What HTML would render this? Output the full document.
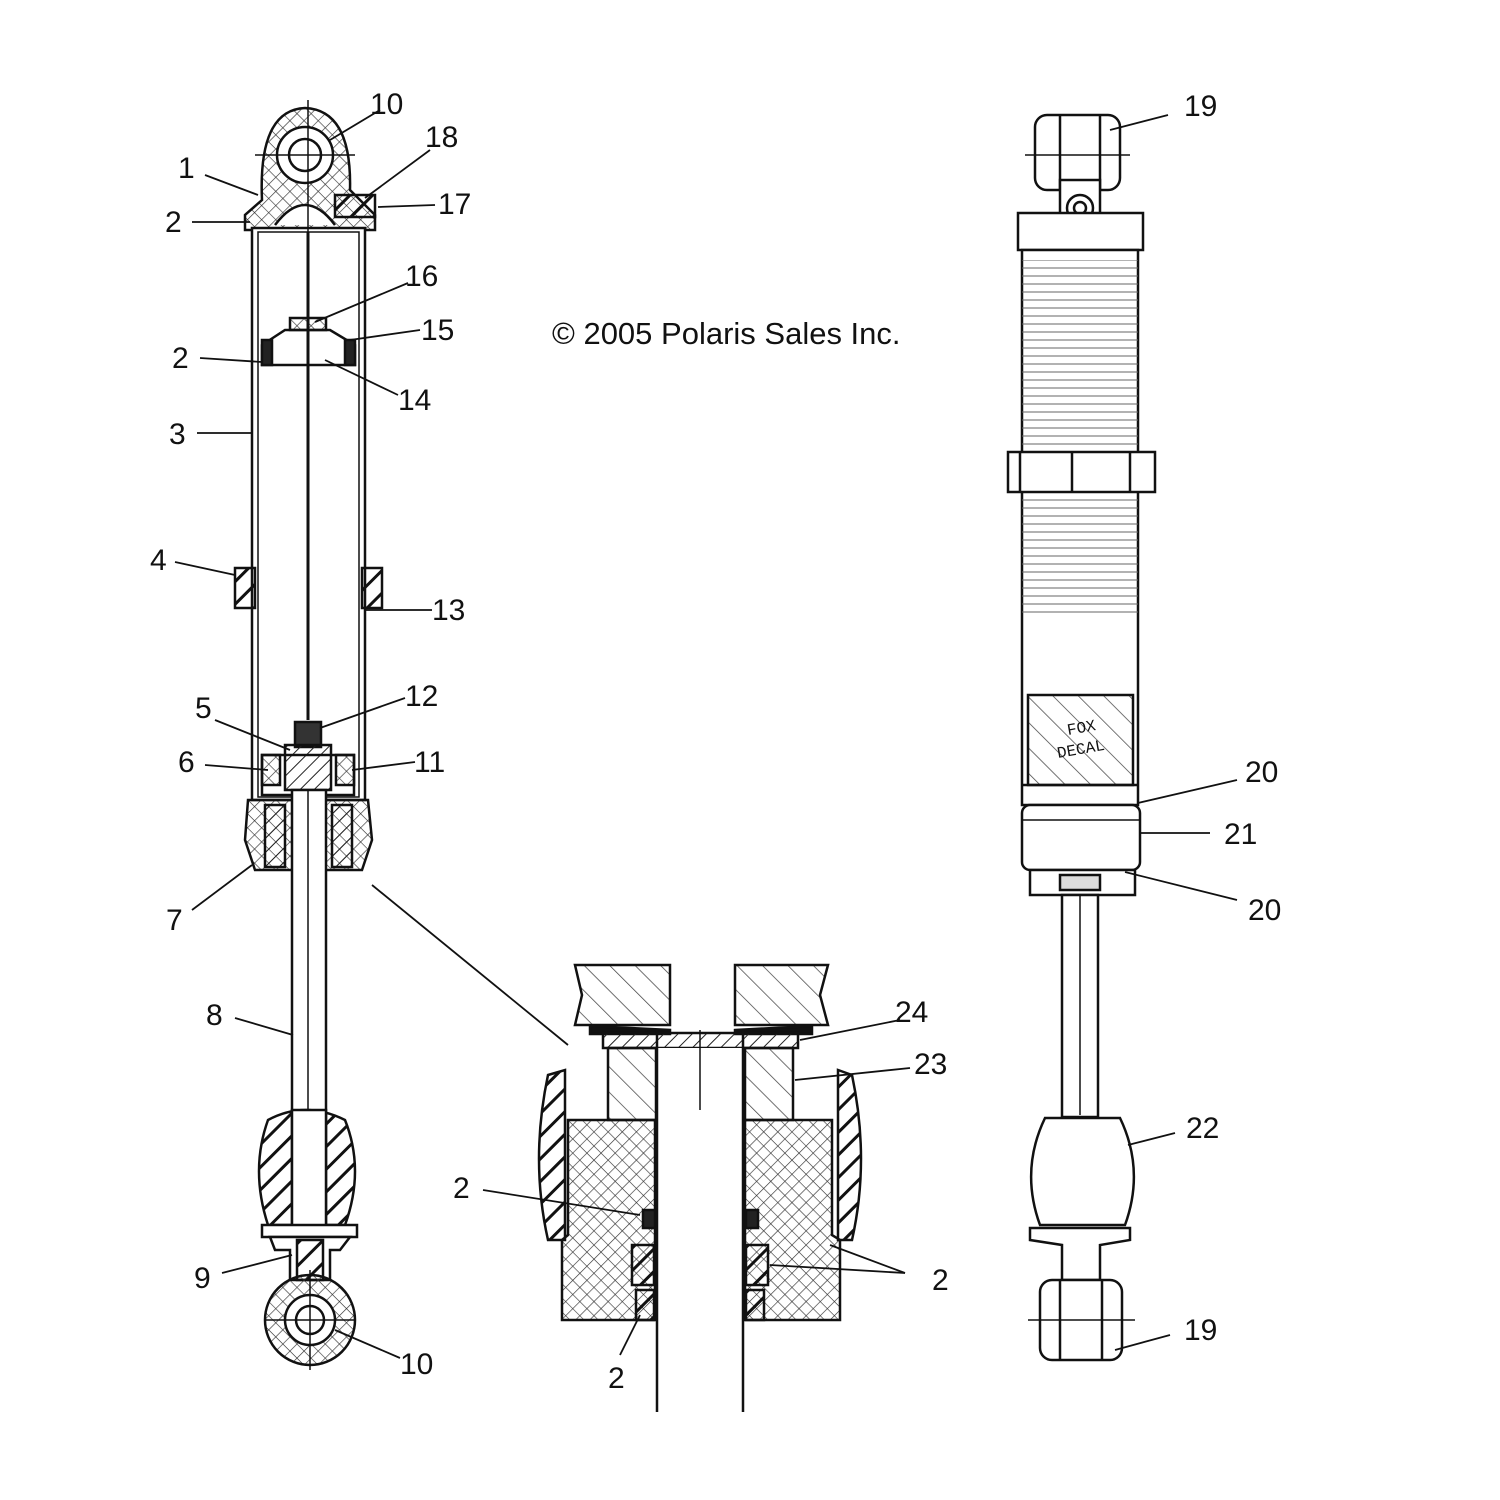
<!DOCTYPE html>
<html><head><meta charset="utf-8"><style>
html,body{margin:0;padding:0;background:#fff;}
svg{display:block;}
text{font-family:"Liberation Sans",sans-serif;font-size:30px;fill:#111;}
</style></head><body>
<svg width="1500" height="1500" viewBox="0 0 1500 1500" xmlns="http://www.w3.org/2000/svg">
<defs>
<pattern id="h" width="10" height="10" patternUnits="userSpaceOnUse" patternTransform="rotate(45)"><line x1="0" y1="0" x2="0" y2="10" stroke="#222" stroke-width="2"/></pattern>
<pattern id="hb" width="16" height="16" patternUnits="userSpaceOnUse" patternTransform="rotate(45)"><line x1="0" y1="0" x2="0" y2="16" stroke="#111" stroke-width="6"/></pattern>
<pattern id="x" width="10" height="10" patternUnits="userSpaceOnUse" patternTransform="rotate(45)"><path d="M0 0V10M0 0H10" stroke="#333" stroke-width="1.3"/></pattern>
<pattern id="hl" width="8" height="8" patternUnits="userSpaceOnUse"><line x1="0" y1="4" x2="8" y2="4" stroke="#666" stroke-width="1"/></pattern>
<pattern id="hd" width="18" height="18" patternUnits="userSpaceOnUse" patternTransform="rotate(-45)"><line x1="0" y1="0" x2="0" y2="18" stroke="#444" stroke-width="1.5"/></pattern>
</defs>
<g fill="none" stroke="#111" stroke-width="2.5">
<!-- LEFT SHOCK -->
<path d="M262 200 Q258 110 305 108 Q352 110 350 190 L375 215 L375 230 L245 230 L245 215 Z" fill="url(#x)"/>
<circle cx="305" cy="155" r="28" fill="#fff"/><circle cx="305" cy="155" r="16"/>
<line x1="255" y1="155" x2="355" y2="155" stroke-width="1.5"/>
<rect x="335" y="195" width="40" height="22" fill="url(#hb)"/>
<path d="M275 225 Q305 185 335 225" fill="#fff"/>
<rect x="252" y="228" width="113" height="572" fill="#fff"/>
<rect x="258" y="232" width="101" height="565" stroke-width="1.5"/>
<rect x="235" y="568" width="20" height="40" fill="url(#hb)"/>
<rect x="362" y="568" width="20" height="40" fill="url(#hb)"/>
<path d="M262 345 L285 330 L330 330 L355 345 L355 365 L262 365 Z" fill="#fff"/>
<rect x="262" y="340" width="10" height="25" fill="#222"/><rect x="345" y="340" width="10" height="25" fill="#222"/>
<rect x="290" y="318" width="36" height="12" fill="url(#x)"/>
<line x1="308" y1="232" x2="308" y2="720" stroke-width="3"/>
<line x1="308" y1="100" x2="308" y2="232" stroke-width="1.5"/>
<rect x="295" y="722" width="26" height="25" fill="#333"/>
<rect x="285" y="745" width="46" height="45" fill="url(#h)"/>
<rect x="262" y="755" width="92" height="40"/>
<rect x="262" y="755" width="18" height="30" fill="url(#x)"/><rect x="336" y="755" width="18" height="30" fill="url(#x)"/>
<path d="M248 800 L368 800 L372 840 L362 870 L255 870 L245 840 Z" fill="url(#x)"/>
<rect x="265" y="805" width="20" height="62" fill="url(#h)"/><rect x="332" y="805" width="20" height="62" fill="url(#h)"/>
<rect x="292" y="790" width="34" height="440" fill="#fff"/>
<line x1="308" y1="790" x2="308" y2="1230" stroke-width="1.5"/>
<path d="M268 1120 Q305 1100 345 1120 Q365 1170 345 1225 L268 1225 Q250 1170 268 1120 Z" fill="url(#hb)"/>
<rect x="292" y="1110" width="34" height="120" fill="#fff"/>
<rect x="262" y="1225" width="95" height="12" fill="#fff"/>
<path d="M270 1237 L350 1237 L340 1250 L330 1250 L330 1280 L290 1280 L290 1250 L275 1250 Z" fill="#fff"/>
<rect x="297" y="1240" width="26" height="40" fill="url(#hb)"/>
<circle cx="310" cy="1320" r="45" fill="url(#x)"/><circle cx="310" cy="1320" r="25" fill="#fff"/><circle cx="310" cy="1320" r="14"/>
<line x1="265" y1="1320" x2="355" y2="1320" stroke-width="1.5"/><line x1="310" y1="1270" x2="310" y2="1370" stroke-width="1.5"/>
<!-- leaders left -->
<g stroke-width="1.8">
<line x1="205" y1="175" x2="258" y2="195"/><line x1="192" y1="222" x2="250" y2="222"/>
<line x1="200" y1="358" x2="262" y2="362"/><line x1="197" y1="433" x2="252" y2="433"/>
<line x1="175" y1="562" x2="235" y2="575"/><line x1="432" y1="610" x2="366" y2="610"/>
<line x1="215" y1="720" x2="290" y2="750"/><line x1="205" y1="765" x2="268" y2="770"/>
<line x1="415" y1="762" x2="352" y2="770"/><line x1="405" y1="698" x2="320" y2="728"/>
<line x1="192" y1="910" x2="252" y2="865"/><line x1="235" y1="1018" x2="293" y2="1035"/>
<line x1="222" y1="1273" x2="292" y2="1255"/><line x1="400" y1="1358" x2="335" y2="1330"/>
<line x1="380" y1="110" x2="330" y2="140"/><line x1="430" y1="150" x2="365" y2="198"/>
<line x1="435" y1="205" x2="378" y2="207"/><line x1="408" y1="283" x2="315" y2="322"/>
<line x1="420" y1="330" x2="350" y2="340"/><line x1="398" y1="395" x2="325" y2="360"/>
<line x1="372" y1="885" x2="568" y2="1045"/>
</g>
<!-- MIDDLE DETAIL -->
<path d="M575 965 L670 965 L670 1025 L575 1025 L582 995 Z" fill="url(#hd)"/>
<path d="M735 965 L828 965 L820 995 L828 1025 L735 1025 Z" fill="url(#hd)"/>
<path d="M590 1026 L670 1030 L670 1034 L590 1034 Z" fill="#111"/><path d="M735 1030 L812 1026 L812 1034 L735 1034 Z" fill="#111"/>
<rect x="603" y="1033" width="195" height="15" fill="url(#h)"/>
<rect x="608" y="1048" width="48" height="72" fill="url(#hd)"/><rect x="745" y="1048" width="48" height="72" fill="url(#hd)"/>
<path d="M568 1120 L655 1120 L655 1320 L562 1320 L562 1240 L568 1235 Z" fill="url(#x)"/>
<path d="M745 1120 L832 1120 L832 1235 L840 1240 L840 1320 L745 1320 Z" fill="url(#x)"/>
<path d="M548 1075 L565 1070 L565 1240 L548 1240 Q530 1160 548 1075 Z" fill="url(#hb)"/>
<path d="M852 1075 L838 1070 L838 1240 L852 1240 Q870 1160 852 1075 Z" fill="url(#hb)"/>
<rect x="632" y="1245" width="22" height="40" fill="url(#hb)"/><rect x="746" y="1245" width="22" height="40" fill="url(#hb)"/>
<rect x="636" y="1290" width="18" height="30" fill="url(#hb)"/><rect x="746" y="1290" width="18" height="30" fill="url(#hb)"/>
<rect x="643" y="1210" width="12" height="18" fill="#222"/><rect x="746" y="1210" width="12" height="18" fill="#222"/>
<rect x="657" y="1048" width="86" height="365" fill="#fff" stroke="none"/>
<line x1="657" y1="1030" x2="657" y2="1412"/><line x1="743" y1="1030" x2="743" y2="1412"/>
<line x1="700" y1="1030" x2="700" y2="1110" stroke-width="1.5"/>
<g stroke-width="1.8">
<line x1="483" y1="1190" x2="640" y2="1215"/><line x1="620" y1="1355" x2="640" y2="1315"/>
<line x1="905" y1="1273" x2="830" y2="1245"/><line x1="905" y1="1273" x2="770" y2="1265"/>
<line x1="900" y1="1020" x2="800" y2="1040"/><line x1="910" y1="1068" x2="795" y2="1080"/>
</g>
<!-- RIGHT SHOCK -->
<rect x="1035" y="115" width="85" height="75" rx="12" fill="#fff"/>
<line x1="1060" y1="115" x2="1060" y2="190"/><line x1="1100" y1="115" x2="1100" y2="190"/>
<line x1="1025" y1="155" x2="1130" y2="155" stroke-width="1.5"/>
<rect x="1060" y="180" width="40" height="35" fill="#fff"/><circle cx="1080" cy="208" r="13" fill="#fff"/><circle cx="1080" cy="208" r="6"/>
<rect x="1018" y="213" width="125" height="37" fill="#fff"/>
<rect x="1022" y="250" width="116" height="555" fill="#fff"/>
<rect x="1022" y="260" width="116" height="190" fill="url(#hl)" stroke="none"/>
<rect x="1022" y="495" width="116" height="120" fill="url(#hl)" stroke="none"/>
<rect x="1008" y="452" width="147" height="40" fill="#fff"/>
<line x1="1020" y1="452" x2="1020" y2="492"/><line x1="1072" y1="452" x2="1072" y2="492"/><line x1="1130" y1="452" x2="1130" y2="492"/>
<rect x="1028" y="695" width="105" height="90" fill="url(#hd)"/>
<text x="1068" y="735" style="font-size:16px;font-family:'Liberation Mono',monospace" stroke="none" transform="rotate(-10 1068 735)">FOX</text>
<text x="1058" y="758" style="font-size:16px;font-family:'Liberation Mono',monospace" stroke="none" transform="rotate(-10 1058 758)">DECAL</text>
<line x1="1022" y1="785" x2="1138" y2="785"/>
<rect x="1022" y="805" width="118" height="65" rx="8" fill="#fff"/>
<line x1="1022" y1="820" x2="1140" y2="820" stroke-width="1.5"/>
<rect x="1030" y="870" width="105" height="25" fill="#fff"/>
<rect x="1060" y="875" width="40" height="15" fill="#ddd"/>
<rect x="1062" y="895" width="36" height="222" fill="#fff"/><line x1="1080" y1="895" x2="1080" y2="1115" stroke-width="1.5"/>
<path d="M1045 1118 L1120 1118 Q1145 1170 1125 1225 L1040 1225 Q1020 1170 1045 1118 Z" fill="#fff"/>
<path d="M1030 1228 L1130 1228 L1130 1240 L1100 1245 L1100 1280 L1062 1280 L1062 1245 L1030 1240 Z" fill="#fff"/>
<rect x="1040" y="1280" width="82" height="80" rx="12" fill="#fff"/>
<line x1="1060" y1="1280" x2="1060" y2="1360"/><line x1="1102" y1="1280" x2="1102" y2="1360"/>
<line x1="1028" y1="1320" x2="1135" y2="1320" stroke-width="1.5"/>
<g stroke-width="1.8">
<line x1="1168" y1="115" x2="1110" y2="130"/><line x1="1237" y1="780" x2="1138" y2="803"/>
<line x1="1210" y1="833" x2="1140" y2="833"/><line x1="1237" y1="900" x2="1125" y2="872"/>
<line x1="1175" y1="1133" x2="1128" y2="1145"/><line x1="1170" y1="1335" x2="1115" y2="1350"/>
</g>
</g>
<g stroke="none">
<text x="370" y="114">10</text><text x="425" y="147">18</text><text x="178" y="178">1</text>
<text x="438" y="214">17</text><text x="165" y="232">2</text><text x="405" y="286">16</text>
<text x="421" y="340">15</text><text x="172" y="368">2</text><text x="398" y="410">14</text>
<text x="169" y="444">3</text><text x="150" y="570">4</text><text x="432" y="620">13</text>
<text x="405" y="706">12</text><text x="195" y="718">5</text><text x="178" y="772">6</text>
<text x="414" y="772">11</text><text x="166" y="930">7</text><text x="206" y="1025">8</text>
<text x="194" y="1288">9</text><text x="400" y="1374">10</text>
<text x="552" y="344" style="font-size:31px">© 2005 Polaris Sales Inc.</text>
<text x="895" y="1022">24</text><text x="914" y="1074">23</text><text x="453" y="1198">2</text>
<text x="932" y="1290">2</text><text x="608" y="1388">2</text>
<text x="1184" y="116">19</text><text x="1245" y="782">20</text><text x="1224" y="844">21</text>
<text x="1248" y="920">20</text><text x="1186" y="1138">22</text><text x="1184" y="1340">19</text>
</g>
</svg>
</body></html>
